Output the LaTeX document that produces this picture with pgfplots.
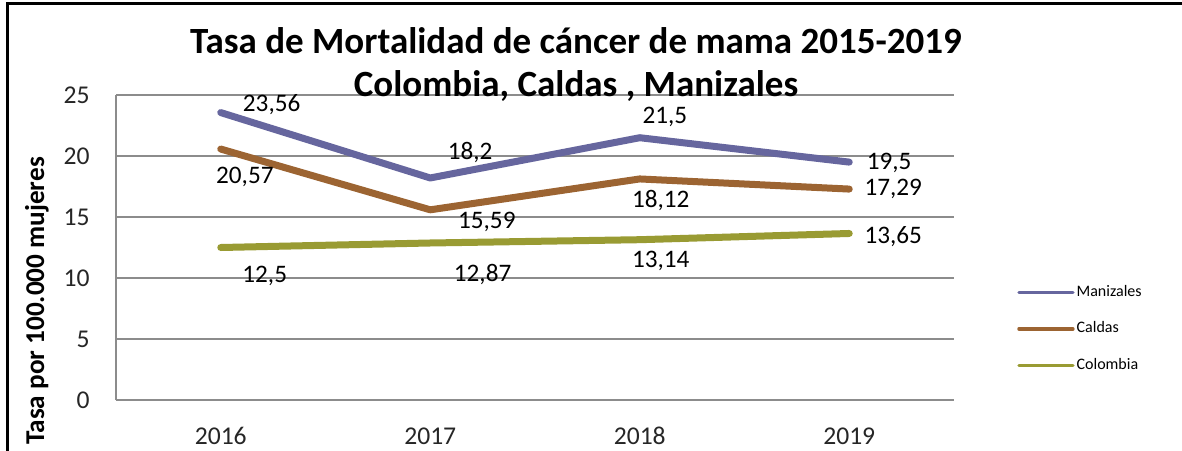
\documentclass[border=0pt]{standalone}
\usepackage{fontspec}
\setmainfont{Carlito}
\usepackage{pgfplots}
\pgfplotsset{compat=1.18}
\definecolor{maniz}{RGB}{102,102,158}
\definecolor{caldas}{RGB}{156,100,50}
\definecolor{colom}{RGB}{153,155,51}
\definecolor{gridgray}{RGB}{140,140,140}
\newcommand{\lbl}{\fontsize{12.6}{14}\selectfont}

\begin{document}
\begin{tikzpicture}
% picture is 1182 x 450 px at 0.5pt per px
\useasboundingbox (0,0) rectangle (591pt,-225pt);
\draw[black, line width=1.5pt] (3.5pt,-226pt) -- (3.5pt,-1.5pt) -- (592pt,-1.5pt);

\begin{axis}[
  scale only axis,
  width=419pt, height=152.5pt,
  at={(58pt,-200pt)}, anchor=south west,
  xmin=-0.5, xmax=3.5, ymin=0, ymax=25,
  xtick={0,1,2,3}, xticklabels={2016,2017,2018,2019},
  ytick={0,5,10,15,20,25},
  major tick length=0pt,
  axis lines*=left,
  axis line style={gridgray, line width=0.6pt},
  ymajorgrids, grid style={gridgray, line width=0.6pt},
  /pgf/number format/assume math mode=true,
  ticklabel style={font=\fontsize{12.8}{14}\selectfont, text=black!85},
  xticklabel style={anchor=center, yshift=-18pt},
  yticklabel style={anchor=east, xshift=-9.7pt},
  clip=false,
  legend style={at={(1.075,0.384)}, anchor=north west, draw=none, fill=none,
    inner sep=0pt, row sep=9.2pt,
    font=\fontsize{8}{9}\selectfont,
    nodes={inner sep=1pt}},
  legend cell align=left,
  legend image code/.code={\draw[#1, line width=1.7pt] (0pt,0pt) -- (27pt,0pt);},
]
\addplot[maniz, line width=3.5pt, line cap=round, line join=round]
  coordinates {(0,23.56)(1,18.2)(2,21.5)(3,19.5)};
\addlegendentry{Manizales}
\addplot[caldas, line width=3.5pt, line cap=round, line join=round]
  coordinates {(0,20.57)(1,15.59)(2,18.12)(3,17.29)};
\addlegendentry{Caldas}
\addplot[colom, line width=3.5pt, line cap=round, line join=round]
  coordinates {(0,12.5)(1,12.87)(2,13.14)(3,13.65)};
\addlegendentry{Colombia}

% data labels
\node[font=\lbl] at (axis cs:0.243,24.18) {23,56};
\node[font=\lbl] at (axis cs:0.115,18.28) {20,57};
\node[font=\lbl] at (axis cs:0.21,10.16) {12,5};
\node[font=\lbl] at (axis cs:1.19,20.25) {18,2};
\node[font=\lbl] at (axis cs:1.27,14.59) {15,59};
\node[font=\lbl] at (axis cs:1.25,10.25) {12,87};
\node[font=\lbl, inner sep=1pt] at (axis cs:2.12,23.2) {21,5};
\node[font=\lbl] at (axis cs:2.10,16.39) {18,12};
\node[font=\lbl] at (axis cs:2.10,11.39) {13,14};
\node[font=\lbl] at (axis cs:3.19,19.43) {19,5};
\node[font=\lbl] at (axis cs:3.21,17.3) {17,29};
\node[font=\lbl] at (axis cs:3.21,13.36) {13,65};
\end{axis}

% title
\node[align=center, inner sep=0pt, font=\fontsize{18.5}{21.5}\bfseries\selectfont] at (288pt,-32.5pt)
  {Tasa de Mortalidad de cáncer de mama 2015-2019\\Colombia, Caldas , Manizales};
% y label
\node[rotate=90, font=\fontsize{13.6}{15}\bfseries\selectfont] at (18.5pt,-150.5pt)
  {Tasa por 100.000 mujeres};
\end{tikzpicture}
\end{document}
